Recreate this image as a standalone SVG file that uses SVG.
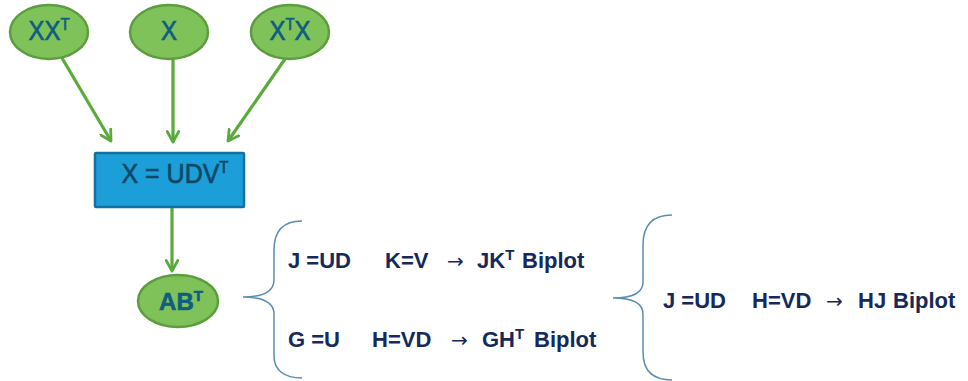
<svg xmlns="http://www.w3.org/2000/svg" width="968" height="381" viewBox="0 0 968 381">
  <style>
    .oval { fill: #7fc25a; stroke: #5c9e3e; stroke-width: 2.5; }
    .oval-label { font-family: "Liberation Sans", Arial, sans-serif; font-size: 24px; fill: #0f5d80; stroke: #0f5d80; stroke-width: 0.6; text-anchor: middle; }
    .box { fill: #1c9fd9; stroke: #14709f; stroke-width: 2.5; }
    .box-label { font-family: "Liberation Sans", Arial, sans-serif; font-size: 25px; fill: #0d4867; stroke: #0d4867; stroke-width: 0.6; text-anchor: middle; }
    .edge { fill: none; stroke: #5aab3c; stroke-width: 3.2; }
    .brace { fill: none; stroke: #5b8db0; stroke-width: 1.5; }
    .row { font-family: "Liberation Sans", Arial, sans-serif; font-size: 22px; font-weight: bold; fill: #15295a; }
    .arr { font-family: "DejaVu Sans", sans-serif; font-weight: normal; font-size: 20px; }
    .sup { font-size: 15px; }
  </style>
  <defs>
    <marker id="chevron" viewBox="0 0 12 12" refX="10" refY="6" markerWidth="14" markerHeight="14" markerUnits="userSpaceOnUse" orient="auto">
      <path d="M1,1 L10,6 L1,11" fill="none" stroke="#5aab3c" stroke-width="2.4" stroke-linecap="round" stroke-linejoin="round"/>
    </marker>
  </defs>

  <rect width="968" height="381" fill="#ffffff"/>

  <!-- connectors -->
  <g id="connectors">
    <line class="edge" x1="62" y1="58" x2="111" y2="141" marker-end="url(#chevron)"/>
    <line class="edge" x1="173" y1="59" x2="173" y2="142" marker-end="url(#chevron)"/>
    <line class="edge" x1="285" y1="59" x2="228" y2="141" marker-end="url(#chevron)"/>
    <line class="edge" x1="172" y1="208" x2="172" y2="271" marker-end="url(#chevron)"/>
  </g>

  <g id="node-xxt">
    <ellipse class="oval" cx="49" cy="32" rx="39" ry="27"/>
    <text class="oval-label" transform="translate(49,40) scale(1,1.12)">XX<tspan class="sup" dy="-9">T</tspan></text>
  </g>

  <g id="node-x">
    <ellipse class="oval" cx="169" cy="32" rx="39" ry="27"/>
    <text class="oval-label" transform="translate(169,40) scale(1,1.12)">X</text>
  </g>

  <g id="node-xtx">
    <ellipse class="oval" cx="290" cy="32" rx="39" ry="27"/>
    <text class="oval-label" transform="translate(290,40) scale(1,1.12)">X<tspan class="sup" dy="-9">T</tspan><tspan dy="9">X</tspan></text>
  </g>

  <g id="node-svd">
    <rect class="box" x="95" y="153" width="149" height="54" rx="1"/>
    <text class="box-label" transform="translate(175,183) scale(1,1.08)">X = UDV<tspan class="sup" dy="-9">T</tspan></text>
  </g>

  <g id="node-abt">
    <ellipse class="oval" cx="178" cy="301" rx="40" ry="26"/>
    <text class="oval-label" x="181" y="310" font-weight="bold" font-size="23" stroke-width="0">AB<tspan class="sup" dy="-9">T</tspan></text>
  </g>

  <!-- braces -->
  <g id="brace-left">
    <path class="brace" d="M302,221 C284,221 274,230 274,250 L274,280 C274,292 262,297 243,297 C262,297 274,302 274,314 L274,356 C274,370 284,378 302,378"/>
  </g>
  <g id="brace-right">
    <path class="brace" d="M672,215 C653,215 643,225 643,245 L643,282 C643,293 632,298 613,298 C632,298 643,303 643,314 L643,352 C643,371 653,380 672,380"/>
  </g>

  <!-- factorisation choices -->
  <g id="row-jk">
    <text class="row" y="268"><tspan x="288">J =UD</tspan><tspan x="385">K=V</tspan><tspan x="447" class="arr">→</tspan><tspan x="477">JK</tspan><tspan class="sup" dy="-8">T</tspan><tspan x="522" dy="8">Biplot</tspan></text>
  </g>
  <g id="row-gh">
    <text class="row" y="347"><tspan x="288">G =U</tspan><tspan x="372">H=VD</tspan><tspan x="451" class="arr">→</tspan><tspan x="482">GH</tspan><tspan class="sup" dy="-8">T</tspan><tspan x="534" dy="8">Biplot</tspan></text>
  </g>
  <g id="row-hj">
    <text class="row" y="308"><tspan x="663">J =UD</tspan><tspan x="752">H=VD</tspan><tspan x="826" class="arr">→</tspan><tspan x="858">HJ</tspan><tspan x="893">Biplot</tspan></text>
  </g>
</svg>
